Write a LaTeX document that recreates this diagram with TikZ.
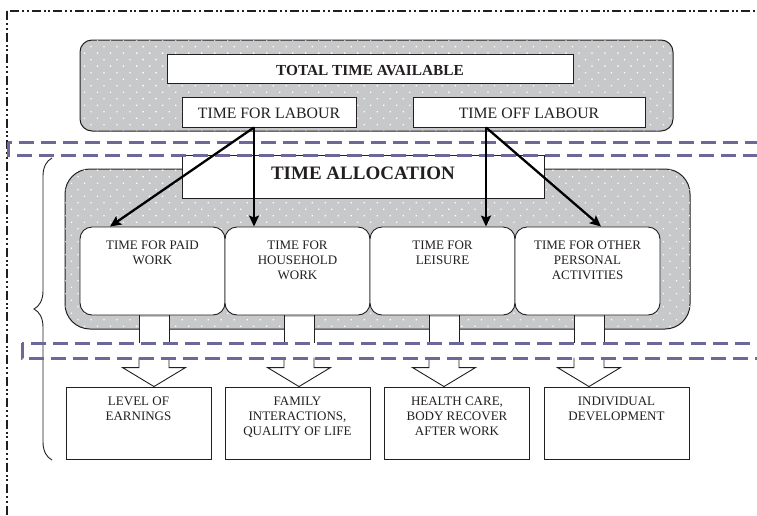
\documentclass[tikz,border=0pt]{standalone}
\usepackage{fontspec}
\setmainfont{Liberation Serif}
\usetikzlibrary{positioning,arrows.meta,patterns.meta,decorations.pathreplacing,calc}

\definecolor{boxgray}{HTML}{C7C8CA}
\definecolor{bandblue}{HTML}{6C6897}
\definecolor{inkdark}{HTML}{231F20}

\tikzset{
	dotbox/.style={draw=inkdark, line width=1pt, fill=boxgray,
		postaction={pattern={Dots[distance=9.2pt,angle=45,radius=0.9pt]}, pattern color=white},
		inner sep=0pt},
	plainbox/.style={draw=inkdark, line width=0.9pt, fill=white, inner sep=0pt},
	catbox/.style={plainbox, rounded corners=12pt, minimum width=145pt, minimum height=88pt},
	resbox/.style={plainbox, minimum width=145pt, minimum height=72pt},
	headtext/.style={font=\fontsize{15.8}{18}\selectfont, text=inkdark},
	cattext/.style={font=\fontsize{13}{14.7}\selectfont, text=inkdark, align=center, inner sep=0pt},
	restext/.style={font=\fontsize{13}{15}\selectfont, text=inkdark, align=center, inner sep=0pt},
	band/.style={draw=bandblue, line width=3pt, dash pattern=on 15pt off 7pt},
	framedash/.style={draw=inkdark, line width=1.7pt,
		dash pattern=on 9pt off 3pt on 2pt off 2.5pt on 2pt off 3pt},
	flowarrow/.style={line width=2.3pt, -{Stealth[length=11pt,width=10pt,inset=2pt]}},
	stemline/.style={draw=inkdark, line width=0.9pt},
}

\begin{document}
\begin{tikzpicture}[x=1pt,y=-1pt]
	\useasboundingbox (0,0) rectangle (757,515);
	\draw[framedash] (7,11) rectangle (800,600);

	% total time and its two parts
	\node[dotbox, rounded corners=12pt, minimum width=593pt, minimum height=91pt] (avail) at (376.5,85.5) {};
	\node[plainbox, headtext, font=\fontsize{15.3}{18}\selectfont\bfseries, text height=14.1pt,
		minimum width=406pt, minimum height=29pt] (total) at (370,68.5) {TOTAL TIME AVAILABLE};
	\node[plainbox, headtext, text height=13.5pt, minimum width=174pt, minimum height=30pt] (labour) at (269,112) {TIME FOR LABOUR};
	\node[plainbox, headtext, text height=13.5pt, minimum width=232pt, minimum height=30pt] (offlabour) at (529,112) {TIME OFF LABOUR};

	% allocation block
	\node[dotbox, rounded corners=25pt, minimum width=625pt, minimum height=160pt] (allocarea) at (377.5,249) {};
	\node[plainbox, font=\fontsize{19}{22}\selectfont\bfseries, text=inkdark, text depth=7pt,
		minimum width=362pt, minimum height=43pt] (alloctitle) at (363,176.5) {TIME ALLOCATION};

	\node[catbox] (paid) at (152.5,271) {};
	\node[catbox] (house) at (297.5,271) {};
	\node[catbox] (leisure) at (442.5,271) {};
	\node[catbox] (other) at (587.5,271) {};
	\node[cattext, below=14.5pt of paid.north] (paidtxt) {TIME FOR PAID\\WORK};
	\node[cattext, below=14.5pt of house.north] (housetxt) {TIME FOR\\HOUSEHOLD\\WORK};
	\node[cattext, below=14.5pt of leisure.north] (leisuretxt) {TIME FOR\\LEISURE};
	\node[cattext, below=14.5pt of other.north] (othertxt) {TIME FOR OTHER\\PERSONAL\\ACTIVITIES};

	% outcomes
	\node[resbox] (earn) at (138.5,423) {};
	\node[resbox] (family) at (297.5,423) {};
	\node[resbox] (health) at (457,423) {};
	\node[resbox] (develop) at (616.5,423) {};
	\node[restext, below=9.7pt of earn.north] (earntxt) {LEVEL OF\\EARNINGS};
	\node[restext, below=9.7pt of family.north] (familytxt) {FAMILY\\INTERACTIONS,\\QUALITY OF LIFE};
	\node[restext, below=9.7pt of health.north] (healthtxt) {HEALTH CARE,\\BODY RECOVER\\AFTER WORK};
	\node[restext, below=9.7pt of develop.north] (developtxt) {INDIVIDUAL\\DEVELOPMENT};

	% block arrows from each category down to its outcome
	\foreach \s/\t in {paid/earn, house/family, leisure/health, other/develop}{
		\coordinate (st) at ([xshift=1.5pt]\s.south);
		\fill[white] ($(st)+(-14.5,1.2)$) rectangle ++(29,14.6);
		\draw[stemline] (st) ++(-15,0) -- ++(0,28);
		\draw[stemline] (st) ++(15,0) -- ++(0,28);
		\draw[stemline] (st |- \t.north) ++(-15,-29) -- ++(0,10) -- ++(-16.5,0)
			-- (st |- \t.north) -- ++(31.5,-19) -- ++(-16.5,0) -- ++(0,-10);
	}

	\draw[inkdark, line width=0.9pt, decorate, decoration={brace, amplitude=18pt}] (52,460) -- (52,158);

	\draw[band] (8,142) rectangle (800,155);
	\draw[band] (22,343) rectangle (800,358);

	\draw[flowarrow] ([xshift=-15pt]labour.south) -- ([xshift=-42.5pt]paid.north);
	\draw[flowarrow] ([xshift=-15pt]labour.south) -- ([xshift=-43.5pt]house.north);
	\draw[flowarrow] ([xshift=-43pt]offlabour.south) -- ([xshift=43.5pt]leisure.north);
	\draw[flowarrow] ([xshift=-43pt]offlabour.south) -- ([xshift=13.5pt]other.north);
\end{tikzpicture}
\end{document}
